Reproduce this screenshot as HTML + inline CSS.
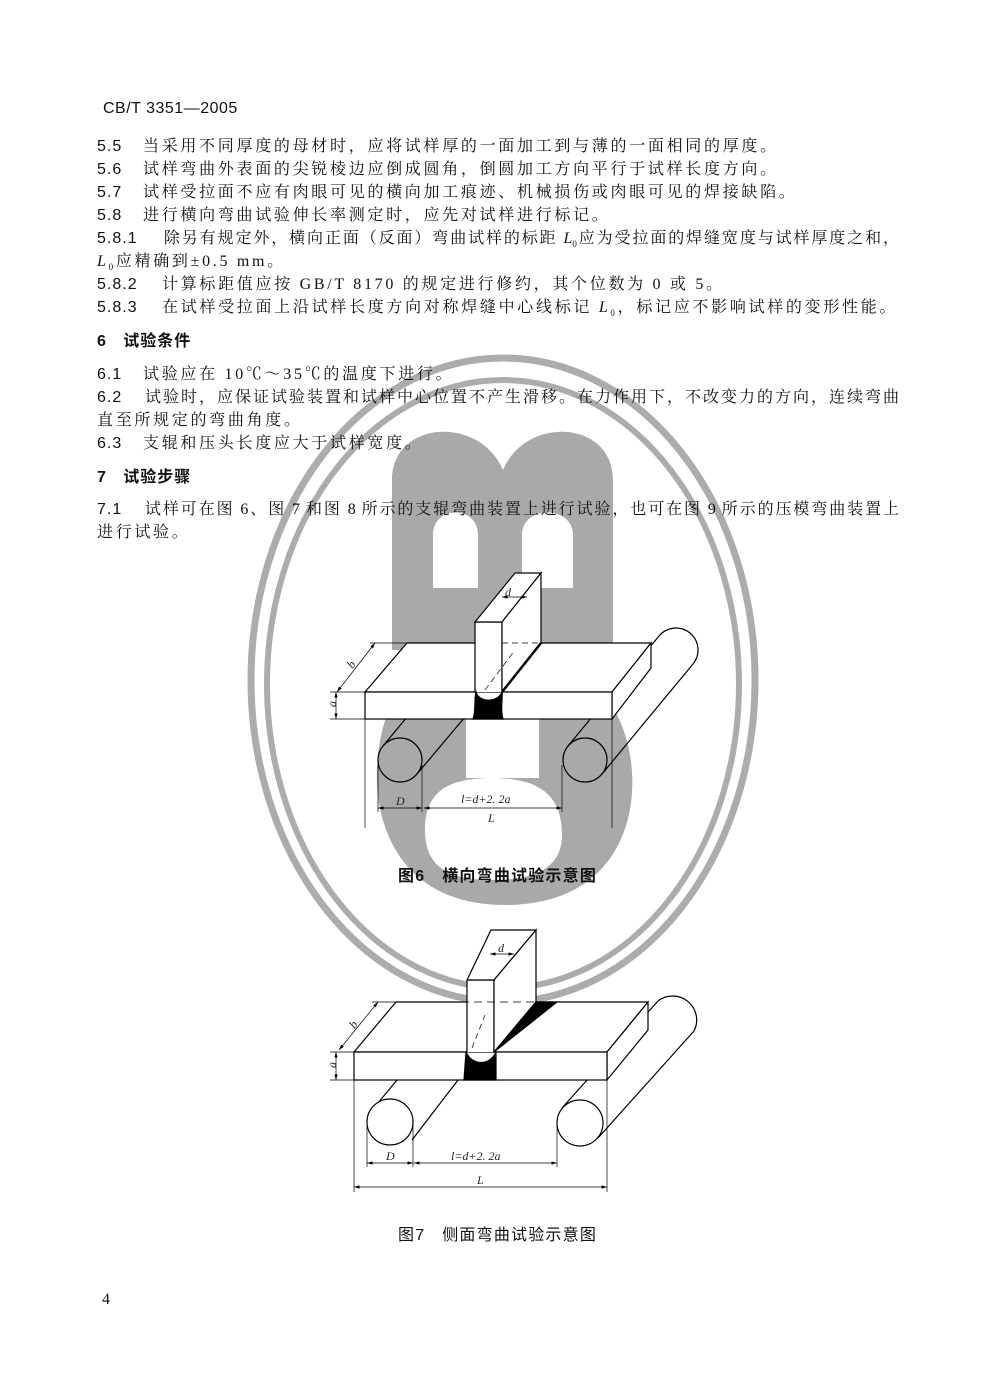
<!DOCTYPE html>
<html><head><meta charset="utf-8">
<style>
body{margin:0;background:#fff;}
#p{position:relative;width:996px;height:1395px;overflow:hidden;background:#fff;}
.t{position:absolute;font-family:"Liberation Serif","Noto Serif CJK SC",serif;font-size:16px;line-height:20px;color:#111;white-space:nowrap;letter-spacing:2.7px;}
.n{font-family:"Liberation Sans","Noto Sans CJK SC",sans-serif;letter-spacing:1px;display:inline-block;width:46px;}
.n2{width:65px;}
.h{font-family:"Liberation Sans","Noto Sans CJK SC",sans-serif;font-weight:bold;}
.j{text-align:justify;text-align-last:justify;white-space:normal;letter-spacing:0;}
svg{position:absolute;left:0;top:0;}
</style></head><body><div id="p">
<svg width="996" height="1395" viewBox="0 0 996 1395">
<defs><marker id="ar" viewBox="0 0 10 6" refX="10" refY="3" markerWidth="8" markerHeight="5" orient="auto-start-reverse"><path d="M0,0 L10,3 L0,6 Z" fill="#000"/></marker></defs>
<g fill="#a9a9a9" fill-rule="evenodd">
<path d="M392,650 V480 C392,420 480,415 503,470 C526,415 613,420 613,480 V650 Z M433,588 V535 C433,505 478,505 478,535 V588 Z M522,588 V535 C522,505 573,505 573,535 V588 Z"/>
<path d="M392,703 H466 V778 H539 V703 H610 C650,760 648,905 505,905 C370,905 360,770 392,703 Z M425,830 C425,790 450,778 492,778 C545,778 562,800 562,835 C562,868 535,880 492,880 C450,880 425,868 425,830 Z"/>
</g>
<ellipse cx="503" cy="680" rx="252" ry="322" fill="none" stroke="#acacac" stroke-width="7"/>
<ellipse cx="503" cy="684" rx="236" ry="304" fill="none" stroke="#acacac" stroke-width="6"/>
<g stroke="#000" stroke-width="1.2" fill="none">
<line x1="602" y1="774" x2="693" y2="664"/>
<line x1="568" y1="746" x2="659" y2="636"/>
<path d="M659,636 A22,22 0 0,1 693,664"/>
<line x1="383" y1="746" x2="407" y2="717"/>
<line x1="417" y1="774" x2="465" y2="717"/>
<circle cx="400" cy="760" r="22"/><circle cx="585" cy="760" r="22"/>
<polygon points="365,692 407,643 651,643 612,692" fill="#fff"/>
<polygon points="612,692 651,643 651,668 612,719" fill="#fff"/>
<rect x="365" y="692" width="247" height="27" fill="#fff"/>
<path d="M475,692 V622 H502 V692" fill="#fff"/>
<polygon points="475,622 515,573 541,573 502,622" fill="#fff"/>
<polygon points="502,622 541,573 541,643 502,692" fill="#fff"/>
<path d="M475,692 C478,703 499,703 502,692" />
<path d="M473,719 H503 C500,710 503,697 502,692 C498,703 479,703 476,692 C474,700 476,712 473,719 Z" fill="#000"/>
<line x1="502" y1="692" x2="541" y2="643" stroke-width="2.5"/>
<line x1="502" y1="643" x2="541" y2="643" stroke-dasharray="6,4" stroke-width="0.8"/>
<line x1="485" y1="690" x2="515" y2="650" stroke-dasharray="6,4" stroke-width="0.7"/>
<g stroke-width="0.7">
<line x1="365" y1="719" x2="365" y2="828"/><line x1="612" y1="719" x2="612" y2="828"/>
<line x1="378" y1="765" x2="378" y2="812"/><line x1="422" y1="765" x2="422" y2="812"/><line x1="562" y1="765" x2="562" y2="812"/>
<line x1="378" y1="808" x2="422" y2="808" marker-start="url(#ar)" marker-end="url(#ar)"/><line x1="424" y1="808" x2="562" y2="808" marker-start="url(#ar)" marker-end="url(#ar)"/>
<line x1="330" y1="692" x2="365" y2="692"/><line x1="330" y1="719" x2="365" y2="719"/>
<line x1="336" y1="692" x2="336" y2="719" marker-start="url(#ar)" marker-end="url(#ar)"/>
<line x1="337" y1="692" x2="375" y2="643" marker-start="url(#ar)" marker-end="url(#ar)"/><line x1="370" y1="643" x2="407" y2="643"/>
<line x1="502" y1="597" x2="527" y2="597" marker-start="url(#ar)" marker-end="url(#ar)"/>
</g>
<line x1="598" y1="1138" x2="694" y2="1031"/>
<line x1="562" y1="1108" x2="658" y2="1001"/>
<path d="M658,1001 A24,24 0 0,1 694,1031"/>
<line x1="397" y1="1080" x2="378" y2="1103"/><line x1="458" y1="1080" x2="412" y2="1140"/>
<circle cx="390" cy="1122" r="23"/><circle cx="580" cy="1123" r="23"/>
<polygon points="354,1052 396,1002 648,1002 607,1052" fill="#fff"/>
<polygon points="607,1052 648,1002 648,1030 607,1080" fill="#fff"/>
<rect x="354" y="1052" width="253" height="28" fill="#fff"/>
<path d="M467,1052 V980 H494 V1052" fill="#fff"/>
<polygon points="467,980 491,930 536,930 494,980" fill="#fff"/>
<polygon points="494,980 536,930 536,1002 494,1052" fill="#fff"/>
<polygon points="494,1052 536,1002 557,1002" fill="#000"/>
<path d="M464,1080 H496 V1052 C490,1066 472,1066 466,1052 Z" fill="#000"/>
<line x1="396" y1="1002" x2="536" y2="1002" stroke-dasharray="8,5" stroke-width="0.8"/>
<line x1="472" y1="1048" x2="485" y2="1015" stroke-dasharray="6,4" stroke-width="0.7"/>
<g stroke-width="0.7">
<line x1="354" y1="1080" x2="354" y2="1192"/><line x1="607" y1="1080" x2="607" y2="1192"/>
<line x1="367" y1="1125" x2="367" y2="1167"/><line x1="413" y1="1125" x2="413" y2="1167"/><line x1="557" y1="1125" x2="557" y2="1167"/>
<line x1="367" y1="1163" x2="413" y2="1163" marker-start="url(#ar)" marker-end="url(#ar)"/><line x1="414" y1="1163" x2="557" y2="1163" marker-start="url(#ar)" marker-end="url(#ar)"/>
<line x1="354" y1="1187" x2="607" y2="1187" marker-start="url(#ar)" marker-end="url(#ar)"/>
<line x1="330" y1="1052" x2="354" y2="1052"/><line x1="330" y1="1080" x2="354" y2="1080"/>
<line x1="336" y1="1052" x2="336" y2="1080" marker-start="url(#ar)" marker-end="url(#ar)"/>
<line x1="339" y1="1050" x2="378" y2="1002" marker-start="url(#ar)" marker-end="url(#ar)"/><line x1="372" y1="1002" x2="396" y2="1002"/>
<line x1="490" y1="954" x2="514" y2="954" marker-start="url(#ar)" marker-end="url(#ar)"/>
</g>
</g>
<g font-family="Liberation Serif, serif" font-style="italic" font-size="12" fill="#222">
<text x="505" y="596">d</text><text x="349" y="668" transform="rotate(-52 352 665)">b</text>
<text x="331" y="708" transform="rotate(-90 333 705)">a</text>
<text x="396" y="805">D</text><text x="461" y="803">l=d+2. 2a</text><text x="488" y="822">L</text>
<text x="498" y="952">d</text><text x="351" y="1028" transform="rotate(-52 354 1025)">b</text>
<text x="331" y="1069" transform="rotate(-90 333 1066)">a</text>
<text x="386" y="1160">D</text><text x="451" y="1160">l=d+2. 2a</text><text x="477" y="1184">L</text>
</g>
</svg>
<div class="t" style="left:103px;top:99px;letter-spacing:0.5px;font-family:'Liberation Sans',sans-serif">CB/T 3351—2005</div>
<div class="t" style="left:97px;top:137px"><span class="n">5.5</span>当采用不同厚度的母材时，应将试样厚的一面加工到与薄的一面相同的厚度。</div>
<div class="t" style="left:97px;top:160px"><span class="n">5.6</span>试样弯曲外表面的尖锐棱边应倒成圆角，倒圆加工方向平行于试样长度方向。</div>
<div class="t" style="left:97px;top:183px"><span class="n">5.7</span>试样受拉面不应有肉眼可见的横向加工痕迹、机械损伤或肉眼可见的焊接缺陷。</div>
<div class="t" style="left:97px;top:206px"><span class="n">5.8</span>进行横向弯曲试验伸长率测定时，应先对试样进行标记。</div>
<div class="t j" style="left:97px;top:229px;width:802px"><span class="n n2">5.8.1</span>除另有规定外，横向正面（反面）弯曲试样的标距 <i>L</i><sub style="font-size:9px">0</sub>应为受拉面的焊缝宽度与试样厚度之和，</div>
<div class="t" style="left:97px;top:252px"><i>L</i><sub style="font-size:9px">0</sub>应精确到±0.5 mm。</div>
<div class="t" style="left:97px;top:275px"><span class="n n2">5.8.2</span>计算标距值应按 GB/T 8170 的规定进行修约，其个位数为 0 或 5。</div>
<div class="t" style="left:97px;top:298px"><span class="n n2">5.8.3</span>在试样受拉面上沿试样长度方向对称焊缝中心线标记 <i>L</i><sub style="font-size:9px">0</sub>，标记应不影响试样的变形性能。</div>
<div class="t h" style="left:97px;top:332px;letter-spacing:1px">6&nbsp;&nbsp;&nbsp;试验条件</div>
<div class="t" style="left:97px;top:365px"><span class="n">6.1</span>试验应在 10℃～35℃的温度下进行。</div>
<div class="t j" style="left:97px;top:388px;width:802px"><span class="n">6.2</span>试验时，应保证试验装置和试样中心位置不产生滑移。在力作用下，不改变力的方向，连续弯曲</div>
<div class="t" style="left:97px;top:411px">直至所规定的弯曲角度。</div>
<div class="t" style="left:97px;top:434px"><span class="n">6.3</span>支辊和压头长度应大于试样宽度。</div>
<div class="t h" style="left:97px;top:468px;letter-spacing:1px">7&nbsp;&nbsp;&nbsp;试验步骤</div>
<div class="t j" style="left:97px;top:500px;width:802px"><span class="n">7.1</span>试样可在图 6、图 7 和图 8 所示的支辊弯曲装置上进行试验，也可在图 9 所示的压模弯曲装置上</div>
<div class="t" style="left:97px;top:523px">进行试验。</div>
<div class="t h" style="left:398px;top:867px;letter-spacing:1.2px">图6&nbsp;&nbsp;&nbsp;横向弯曲试验示意图</div>
<div class="t h" style="left:398px;top:1226px;font-weight:normal;letter-spacing:1.2px">图7&nbsp;&nbsp;&nbsp;侧面弯曲试验示意图</div>
<div class="t" style="left:102px;top:1290px">4</div>
</div></body></html>
